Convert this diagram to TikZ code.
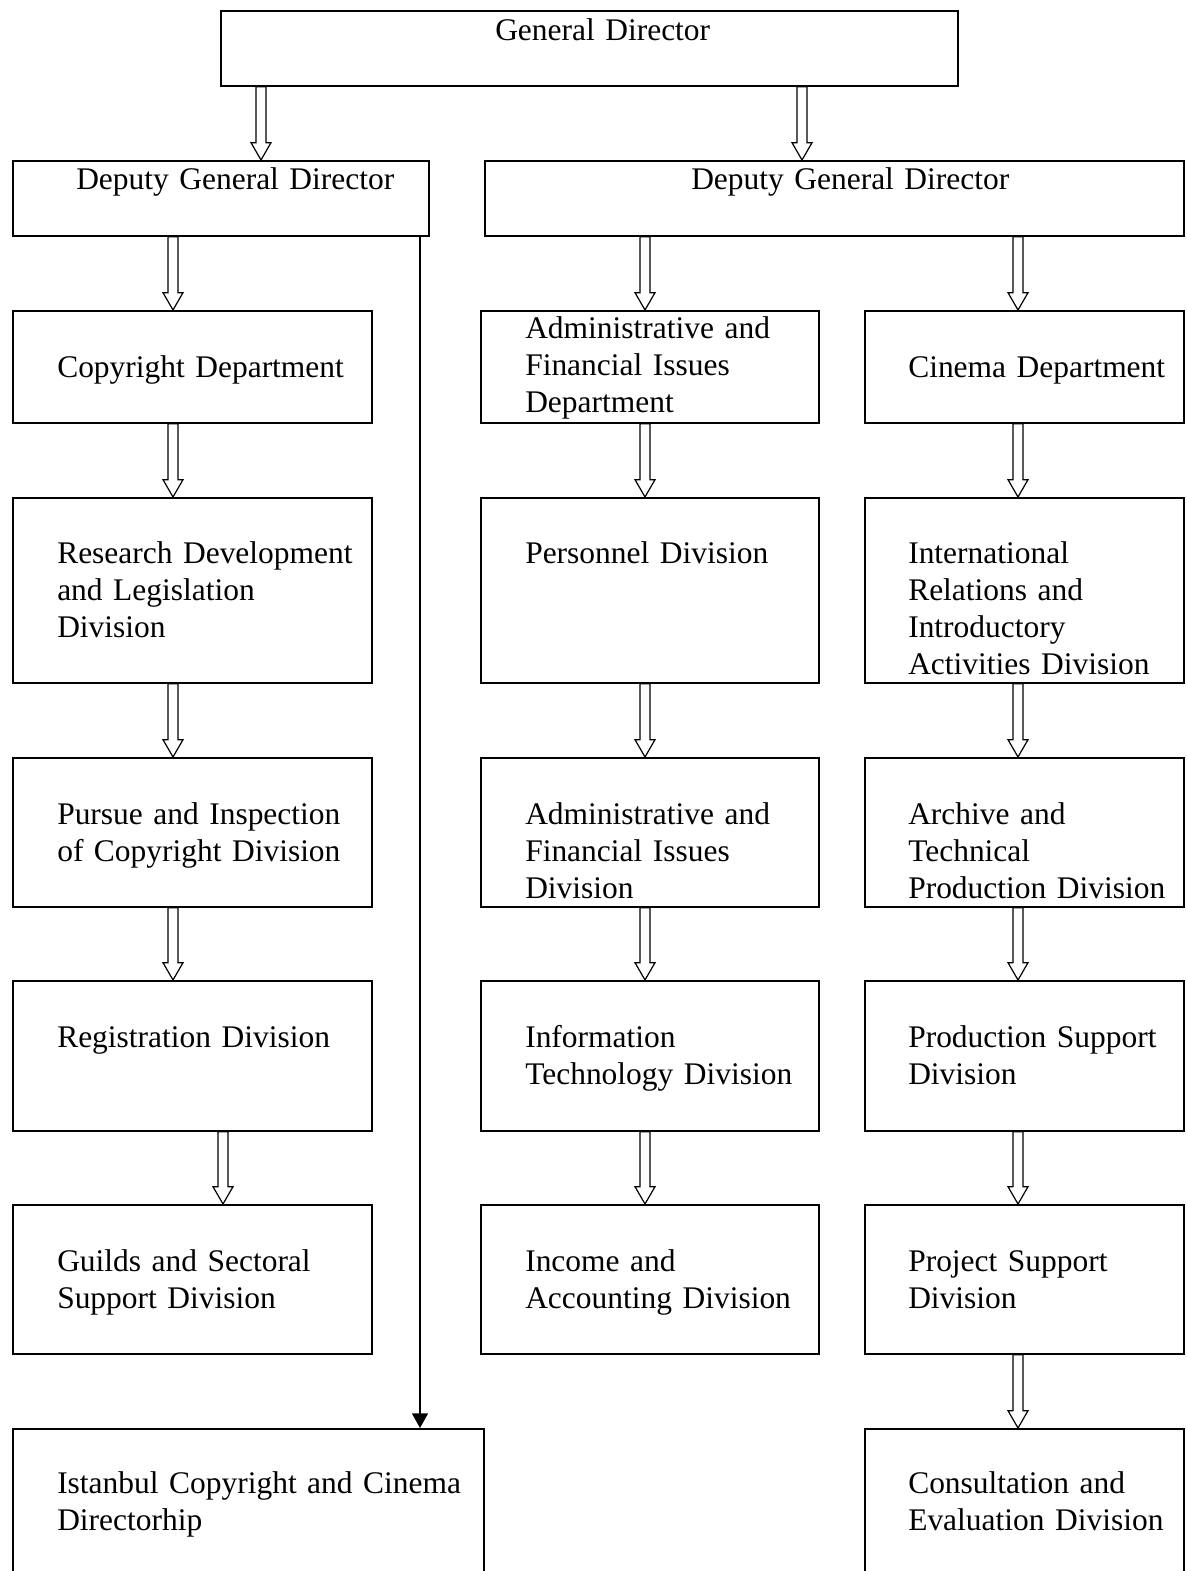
\documentclass[tikz,border=0pt]{standalone}
\usepackage{fontspec}
\setmainfont{Liberation Serif}
\usetikzlibrary{calc,arrows.meta}

\tikzset{
  box/.style 2 args={draw, line width=1.3pt, inner sep=0pt, anchor=north west,
    minimum width=#1*0.75pt, minimum height=#2*0.75pt},
  lbl/.style={anchor=base west, inner sep=0pt, align=left, text width=#1,
    font=\fontsize{23.6}{27.75}\selectfont},
  lbl/.default=235pt,
  harrowline/.style={line width=0.9pt, fill=white},
  link/.style={line width=1.2pt, -{Triangle[length=11pt,width=12pt]}},
}

% hollow block arrow at x=#1 from node #2 to node #3
\newcommand\harrow[3]{%
  \draw[harrowline] let \p1=(#1,0), \p2=(#2.south), \p3=(#3.north) in
    (\x1-3.75pt,\y2) -- (\x1-3.75pt,\y3-13pt) -- (\x1-7.5pt,\y3-13pt) -- (\x1,\y3)
    -- (\x1+7.5pt,\y3-13pt) -- (\x1+3.75pt,\y3-13pt) -- (\x1+3.75pt,\y2) -- cycle;}

\begin{document}
\begin{tikzpicture}[x=0.75pt,y=0.75pt,yscale=-1,xscale=1]
\useasboundingbox (0,0) rectangle (1187,1571);

%Shape: Rectangle [General Director]
\node[box={737}{75}] (gd) at (220,10) {};
%Shape: Rectangle [Deputies]
\node[box={416}{75}] (dl) at (12,160) {};
\node[box={699}{75}] (dr) at (484,160) {};

%Shape: Rectangle [left column]
\node[box={359}{112}] (copy) at (12,310) {};
\node[box={359}{185}] (rdl) at (12,497) {};
\node[box={359}{149}] (pursue) at (12,757) {};
\node[box={359}{150}] (reg) at (12,980) {};
\node[box={359}{149}] (guild) at (12,1204) {};
\node[box={471}{160}] (ist) at (12,1428) {};

%Shape: Rectangle [middle column]
\node[box={338}{112}] (afd) at (480,310) {};
\node[box={338}{185}] (pers) at (480,497) {};
\node[box={338}{149}] (afdiv) at (480,757) {};
\node[box={338}{150}] (it) at (480,980) {};
\node[box={338}{149}] (inc) at (480,1204) {};

%Shape: Rectangle [right column]
\node[box={319}{112}] (cin) at (864,310) {};
\node[box={319}{185}] (intl) at (864,497) {};
\node[box={319}{149}] (arch) at (864,757) {};
\node[box={319}{150}] (prod) at (864,980) {};
\node[box={319}{149}] (proj) at (864,1204) {};
\node[box={319}{160}] (cons) at (864,1428) {};

% Text Node
\node[lbl=300pt] (gd-t) at (495,40) {General Director};
\node[lbl=300pt] (dl-t) at (76,189) {Deputy General Director};
\node[lbl=300pt] (dr-t) at (691,189) {Deputy General Director};

% Text Node
\node[lbl] (copy-t) at (57,377) {Copyright Department};
\node[lbl] (rdl-t) at (57,563) {Research Development\\and Legislation\\Division};
\node[lbl] (pursue-t) at (57,824) {Pursue and Inspection\\of Copyright Division};
\node[lbl] (reg-t) at (57,1047) {Registration Division};
\node[lbl] (guild-t) at (57,1271) {Guilds and Sectoral\\Support Division};
\node[lbl=310pt] (ist-t) at (57,1493) {Istanbul Copyright and Cinema\\Directorhip};

% Text Node
\node[lbl=215pt] (afd-t) at (525,338) {Administrative and\\Financial Issues\\Department};
\node[lbl=215pt] (pers-t) at (525,563) {Personnel Division};
\node[lbl=215pt] (afdiv-t) at (525,824) {Administrative and\\Financial Issues\\Division};
\node[lbl=215pt] (it-t) at (525,1047) {Information\\Technology Division};
\node[lbl=215pt] (inc-t) at (525,1271) {Income and\\Accounting Division};

% Text Node
\node[lbl=205pt] (cin-t) at (908,377) {Cinema Department};
\node[lbl=205pt] (intl-t) at (908,563) {International\\Relations and\\Introductory\\Activities Division};
\node[lbl=205pt] (arch-t) at (908,824) {Archive and\\Technical\\Production Division};
\node[lbl=205pt] (prod-t) at (908,1047) {Production Support\\Division};
\node[lbl=205pt] (proj-t) at (908,1271) {Project Support\\Division};
\node[lbl=205pt] (cons-t) at (908,1493) {Consultation and\\Evaluation Division};

% Block Arrows
\harrow{261}{gd}{dl}
\harrow{802}{gd}{dr}

\harrow{173}{dl}{copy}
\harrow{173}{copy}{rdl}
\harrow{173}{rdl}{pursue}
\harrow{173}{pursue}{reg}
\harrow{223}{reg}{guild}

\harrow{645}{dr}{afd}
\harrow{645}{afd}{pers}
\harrow{645}{pers}{afdiv}
\harrow{645}{afdiv}{it}
\harrow{645}{it}{inc}

\harrow{1018}{dr}{cin}
\harrow{1018}{cin}{intl}
\harrow{1018}{intl}{arch}
\harrow{1018}{arch}{prod}
\harrow{1018}{prod}{proj}
\harrow{1018}{proj}{cons}

%Straight Lines [Istanbul link]
\coordinate (vline) at (420,0);
\draw[link] (dl.south -| vline) -- (ist.north -| vline);

\end{tikzpicture}
\end{document}
